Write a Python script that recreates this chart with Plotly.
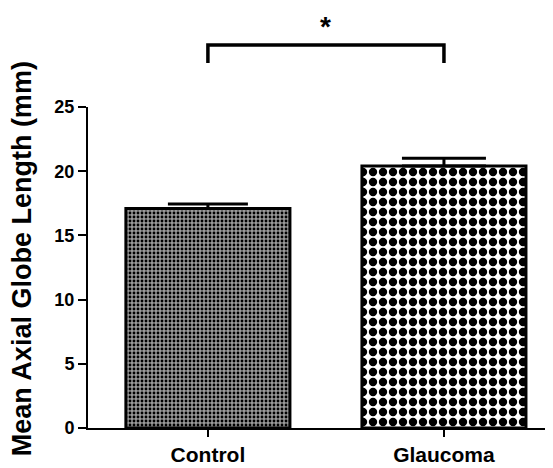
import plotly.graph_objects as go

categories = ["Control", "Glaucoma"]
means = [17.1, 20.4]
sems = [0.35, 0.6]
y_ticks = [0, 5, 10, 15, 20, 25]
patterns = [
    dict(shape=".", size=4, solidity=0.4, fgcolor="black", bgcolor="#9a9a9a", fillmode="replace"),
    dict(shape=".", size=10, solidity=0.55, fgcolor="black", bgcolor="white", fillmode="replace"),
]
caps = [40, 42]
sig_label = "*"

fig = go.Figure()
for cat, m, s, pat, cap in zip(categories, means, sems, patterns, caps):
    fig.add_trace(go.Bar(
        x=[cat], y=[m], width=0.695,
        marker=dict(color="white", pattern=pat, line=dict(color="black", width=3)),
        error_y=dict(type="data", symmetric=False, array=[s], arrayminus=[0],
                     color="black", thickness=3, width=cap),
        showlegend=False,
    ))

font = "Liberation Sans, Arial, sans-serif"
fig.update_layout(
    width=545, height=460,
    margin=dict(l=80, r=0, t=99, b=40),
    plot_bgcolor="white", paper_bgcolor="white",
    font=dict(family=font, color="black"),
    xaxis=dict(range=[-0.508, 1.462], showline=True, linecolor="black", linewidth=2,
               ticks="outside", ticklen=7, tickwidth=2, tickcolor="black",
               showgrid=False, zeroline=False,
               tickfont=dict(size=21, family=font, weight="bold")),
    yaxis=dict(range=[0, 25], tickvals=y_ticks, showline=True, linecolor="black", linewidth=2,
               ticks="outside", ticklen=8, tickwidth=2, tickcolor="black",
               showgrid=False, zeroline=False,
               tickfont=dict(size=18, family=font, weight="bold")),
)

# significance bracket
fig.add_shape(type="path", xref="x", yref="paper",
              path="M 0,1.137 L 0,1.193 L 1,1.193 L 1,1.137",
              line=dict(color="black", width=3.5))
fig.add_annotation(x=0.5, xref="x", y=1.305, yref="paper", text=sig_label,
                   showarrow=False, font=dict(size=28, family=font, weight="bold"),
                   xanchor="center", yanchor="top")
fig.add_annotation(x=0, xref="paper", xshift=-66, y=0.526, yref="paper",
                   text="Mean Axial Globe Length (mm)", textangle=-90, showarrow=False,
                   font=dict(size=27, family=font, weight="bold"),
                   xanchor="center", yanchor="middle")

fig.write_html("out.html")
